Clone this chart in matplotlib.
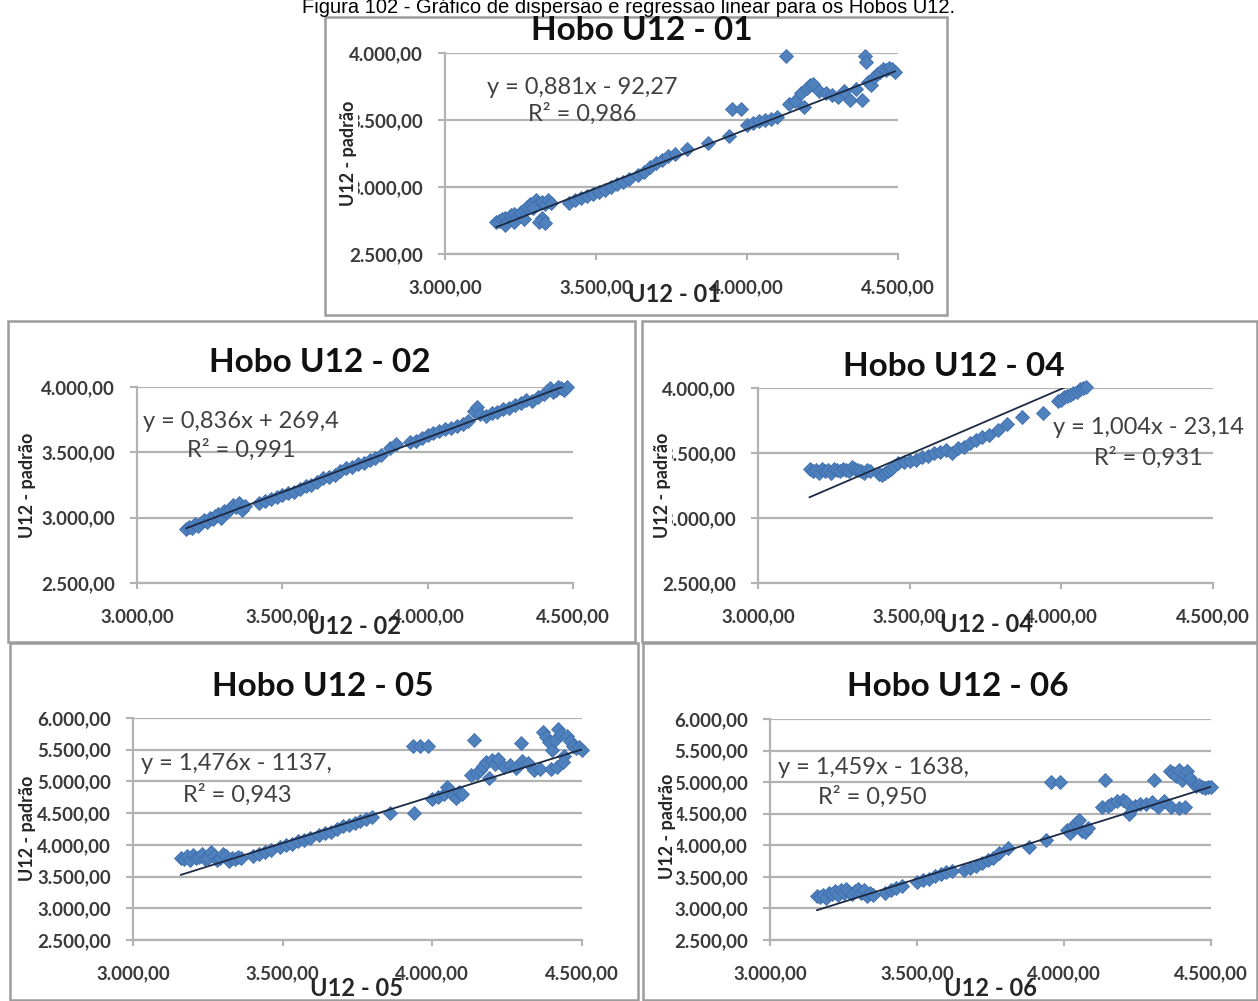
import matplotlib.pyplot as plt
from matplotlib.patches import Rectangle

plt.rcParams['font.family'] = ['Lato', 'DejaVu Sans']

W, H = 1258, 1001

# ---------------- data ----------------
x_ticks = [3000, 3500, 4000, 4500]
y_ticks_small = [2500, 3000, 3500, 4000]
y_ticks_big = [2500, 3000, 3500, 4000, 4500, 5000, 5500, 6000]

titles = ["Hobo U12 - 01", "Hobo U12 - 02", "Hobo U12 - 04", "Hobo U12 - 05", "Hobo U12 - 06"]
xlabels = ["U12 - 01", "U12 - 02", "U12 - 04", "U12 - 05", "U12 - 06"]
eq_labels = ["y = 0,881x - 92,27", "y = 0,836x + 269,4", "y = 1,004x - 23,14",
             "y = 1,476x - 1137,", "y = 1,459x - 1638,"]
r2_labels = ["R² = 0,986", "R² = 0,991", "R² = 0,931", "R² = 0,943", "R² = 0,950"]
slopes = [0.881, 0.836, 1.004, 1.476, 1.459]
intercepts = [-92.27, 269.4, -23.14, -1137, -1638]

x01 = [3170, 3180, 3190, 3200, 3210, 3220, 3230, 3240, 3250, 3260, 3270, 3280, 3290, 3300, 3310, 3320, 3330, 3340, 3350,
       3200, 3230, 3260, 3290, 3320, 3310, 3330,
       3410, 3430, 3450, 3470, 3490, 3510, 3530, 3550, 3570, 3590, 3610,
       3640, 3660, 3680, 3700, 3720, 3740, 3760,
       3800, 3870, 3940, 3950, 3980,
       4000, 4020, 4040, 4060, 4080, 4100, 4130,
       4140, 4160, 4180, 4190, 4200, 4210, 4220, 4240,
       4260, 4280, 4300, 4320, 4340, 4360, 4380, 4390, 4395,
       4400, 4410, 4420, 4430, 4440, 4450, 4460, 4470, 4480, 4490]
y01 = [2740, 2745, 2760, 2770, 2755, 2790, 2800, 2780, 2810, 2830, 2850, 2870, 2880, 2900, 2880, 2890, 2870, 2900, 2880,
       2720, 2740, 2760, 2840, 2770, 2740, 2730,
       2880, 2900, 2920, 2930, 2950, 2960, 2980, 3000, 3020, 3040, 3060,
       3090, 3110, 3150, 3180, 3200, 3230, 3250,
       3280, 3330, 3380, 3580, 3580,
       3460, 3480, 3490, 3500, 3510, 3520, 3975,
       3620, 3640, 3700, 3600, 3740, 3760, 3770, 3720,
       3700, 3690, 3670, 3720, 3650, 3730, 3650, 3975, 3930,
       3780, 3760, 3820, 3840, 3860, 3880, 3870, 3890, 3880, 3860]

x02 = [3170, 3180, 3190, 3200, 3210, 3220, 3230, 3240, 3250, 3260, 3270, 3280, 3290, 3300, 3310, 3320, 3330, 3340, 3350, 3360, 3370,
       3420, 3440, 3460, 3480, 3500, 3520, 3540, 3560, 3580, 3600, 3620,
       3640, 3660, 3680, 3700, 3720, 3740, 3760, 3780, 3800, 3820, 3840,
       3870, 3890, 3940, 3960, 3980, 4000, 4020, 4040, 4060, 4080, 4100, 4120, 4140,
       4160, 4170, 4180, 4200, 4220, 4240, 4260, 4280, 4300, 4320, 4340, 4360, 4380,
       4400, 4410, 4420, 4430, 4440, 4450, 4460, 4470, 4480]
y02 = [2910, 2930, 2920, 2950, 2940, 2960, 2980, 2970, 3000, 2990, 3010, 3030, 3000, 3050, 3040, 3070, 3100, 3080, 3110, 3060, 3090,
       3110, 3130, 3140, 3160, 3170, 3190, 3200, 3220, 3240, 3250, 3270,
       3300, 3310, 3330, 3360, 3380, 3390, 3410, 3420, 3440, 3460, 3480,
       3530, 3560, 3580, 3590, 3610, 3630, 3650, 3660, 3680, 3690, 3700, 3720, 3740,
       3820, 3850, 3790, 3780, 3800, 3810, 3830, 3840, 3860, 3880, 3900, 3890, 3920,
       3950, 3970, 3990, 3960, 3980, 4000, 3990, 3980, 4000]

x04 = [3170, 3180, 3190, 3200, 3210, 3220, 3230, 3240, 3250, 3260, 3270, 3280, 3290, 3300, 3310, 3320, 3330, 3340, 3350, 3360, 3370,
       3400, 3410, 3420, 3430, 3440, 3450, 3460,
       3480, 3500, 3520, 3540, 3560, 3580, 3600, 3620, 3640, 3660, 3680, 3700, 3720, 3740, 3760,
       3790, 3820, 3870, 3940,
       3990, 4000, 4010, 4020, 4030, 4040, 4050, 4060, 4070, 4080]
y04 = [3380, 3360, 3370, 3350, 3380, 3360, 3370, 3350, 3380, 3370, 3360, 3380, 3370, 3360, 3390, 3380, 3370, 3360, 3350, 3370, 3360,
       3340, 3330, 3350, 3360, 3380, 3400, 3420,
       3430, 3440, 3450, 3470, 3480, 3500, 3510, 3520, 3500, 3540, 3550, 3580, 3600, 3620, 3640,
       3680, 3720, 3780, 3810,
       3900, 3910, 3930, 3940, 3950, 3960, 3970, 3990, 4000, 4010]

x05 = [3160, 3170, 3180, 3190, 3200, 3210, 3220, 3230, 3240, 3250, 3260, 3270, 3280, 3290, 3300, 3310, 3320, 3330, 3340, 3350, 3360,
       3400, 3420, 3440, 3460,
       3490, 3510, 3530, 3550, 3570, 3590,
       3620, 3640, 3660, 3680, 3700, 3720, 3740, 3760, 3780, 3800,
       3860, 3940, 3935, 3960, 3985,
       4000, 4020, 4040, 4050, 4060, 4070, 4080, 4090, 4100,
       4140, 4130, 4150, 4160, 4170, 4180, 4190, 4200, 4210, 4220, 4240,
       4260, 4280, 4295, 4300, 4320, 4340, 4360,
       4370, 4380, 4390, 4400, 4410, 4420, 4430, 4440, 4450, 4460, 4470, 4480, 4490, 4500, 4395, 4415, 4435]
y05 = [3800, 3780, 3820, 3760, 3840, 3790, 3810, 3850, 3770, 3800, 3880, 3830, 3760, 3790, 3860, 3820, 3750, 3800, 3780, 3810, 3790,
       3820, 3850, 3880, 3920,
       3960, 3990, 4020, 4060, 4080, 4110,
       4160, 4180, 4210, 4250, 4290, 4320, 4350, 4380, 4410, 4440,
       4500, 4500, 5560, 5560, 5560,
       4720, 4760, 4800, 4920, 4860, 4780, 4740, 4840, 4800,
       5660, 5100, 5140, 5180, 5250, 5300, 5060, 5330, 5280, 5350, 5230,
       5260, 5210, 5600, 5320, 5290, 5180, 5200,
       5780, 5700, 5620, 5500, 5660, 5820, 5750, 5400, 5720, 5640, 5560, 5520, 5540, 5500, 5200, 5230, 5300]

x06 = [3160, 3170, 3180, 3190, 3200, 3210, 3220, 3230, 3240, 3250, 3260, 3270, 3280, 3290, 3300, 3310, 3320, 3330, 3340, 3350,
       3390, 3410, 3430, 3450,
       3500, 3520, 3540, 3560, 3580, 3600, 3620,
       3660, 3680, 3700, 3720, 3740, 3760,
       3780, 3810, 3880, 3940,
       3955, 3985,
       4010, 4020, 4030, 4040, 4050, 4060, 4070, 4080,
       4140,
       4130, 4150, 4160, 4180, 4200, 4210, 4220,
       4305,
       4240, 4260, 4280, 4300, 4320, 4340,
       4360, 4370, 4380, 4390, 4400, 4410, 4420, 4430, 4440, 4450, 4460, 4470, 4480, 4490, 4500, 4365, 4390, 4410]
y06 = [3200, 3180, 3220, 3160, 3250, 3230, 3270, 3210, 3290, 3240, 3300, 3260, 3230, 3280, 3310, 3250, 3290, 3200, 3240, 3220,
       3240, 3290, 3330, 3350,
       3420, 3450, 3470, 3510, 3550, 3570, 3590,
       3610, 3640, 3670, 3720, 3760, 3800,
       3870, 3950, 3980, 4080,
       5010, 5010,
       4250, 4190, 4300, 4360, 4400, 4230, 4210, 4280,
       5040,
       4600, 4620, 4650, 4700, 4720, 4680, 4500,
       5040,
       4620, 4660, 4650, 4680, 4600, 4700,
       5170, 5140, 5100, 5200, 5040, 5120, 5180, 5060, 4990, 4940, 4960, 4930, 4900, 4920, 4930, 4610, 4590, 4600]

xs = [x01, x02, x04, x05, x06]
ys = [y01, y02, y04, y05, y06]
yticks = [y_ticks_small, y_ticks_small, y_ticks_small, y_ticks_big, y_ticks_big]

# ---------------- layout (pixels of the 1258x1001 picture) ----------------
# axes box: left, top, right, bottom
ax_box = [(445, 53, 898, 254), (137, 387, 573, 583), (758, 388, 1213, 583),
          (133, 718, 582, 940), (770, 719, 1211, 940)]
frame_box = [(325, 17, 947, 315), (8, 321, 635, 642), (642, 321, 1257, 642),
             (10, 643, 638, 1000), (643, 643, 1257, 1000)]
title_pos = [(642, 31), (320, 363), (954, 367), (323, 687), (958, 687)]
eq_pos = [(582, 88), (241, 422), (1148, 428), (236, 764), (874, 768)]
r2_pos = [(582, 114), (241, 450), (1148, 458), (237, 795), (872, 797)]
xlab_pos = [(674, 295), (355, 627), (986, 625), (357, 988), (990, 988)]
ylab_pos = [(349, 153), (27, 485), (663, 485), (28, 828), (668, 826)]


def fx(x):
    return x / W


def fy(y):
    return 1 - y / H


def br(v):
    s = f"{v:,.2f}"
    return s.replace(',', 'X').replace('.', ',').replace('X', '.')


fig = plt.figure(figsize=(W / 100, H / 100), dpi=100)
fig.patch.set_facecolor('white')

# legenda da figura (no original aparece cortada no topo)
fig.text(0.5, fy(13), "Figura 102 - Gráfico de dispersão e regressão linear para os Hobos U12.",
         ha='center', va='baseline', fontsize=14.5, family=['Liberation Sans', 'DejaVu Sans'], color='black')

grid_c = '#b2b2b2'
txt_c = '#3a3a3a'

for i in range(5):
    # moldura do painel
    l, t, r, b = frame_box[i]
    fig.add_artist(Rectangle((fx(l), fy(b)), fx(r) - fx(l), fy(t) - fy(b), transform=fig.transFigure,
                             fill=False, edgecolor='#9c9c9c', lw=1.8, zorder=1))

    l, t, r, b = ax_box[i]
    ax = fig.add_axes([fx(l), fy(b), fx(r) - fx(l), fy(t) - fy(b)])
    ax.set_xlim(3000, 4500)
    ax.set_ylim(yticks[i][0], yticks[i][-1])
    ax.set_xticks(x_ticks, [br(v) for v in x_ticks], fontsize=13.5, fontweight='bold', color=txt_c)
    ax.set_yticks(yticks[i], [br(v) for v in yticks[i]], fontsize=13.5, fontweight='bold', color=txt_c)
    ax.tick_params(axis='y', length=5, width=1.5, color=grid_c, pad=11)
    ax.tick_params(axis='x', length=4, width=1.5, color=grid_c, pad=14)
    ax.grid(axis='y', color=grid_c, lw=1.6)
    ax.set_axisbelow(True)
    for s in ['top', 'right']:
        ax.spines[s].set_visible(False)
    for s in ['left', 'bottom']:
        ax.spines[s].set_color(grid_c)
        ax.spines[s].set_linewidth(1.6)

    ax.plot(xs[i], ys[i], ls='none', marker='D', ms=7, mfc='#4F81BD', mec='#3F6FAE', mew=0.6,
            clip_on=False, zorder=3)
    # linha de tendência
    x0, x1 = min(xs[i]), max(xs[i])
    ax.plot([x0, x1], [slopes[i] * x0 + intercepts[i], slopes[i] * x1 + intercepts[i]],
            color='#1c2a44', lw=1.3, zorder=4)

    fig.text(fx(title_pos[i][0]), fy(title_pos[i][1]), titles[i], ha='center', va='center',
             fontsize=24, fontweight='bold', color='#111111', zorder=5)
    fig.text(fx(eq_pos[i][0]), fy(eq_pos[i][1]), eq_labels[i], ha='center', va='center',
             fontsize=17, color='#404040', zorder=5)
    fig.text(fx(r2_pos[i][0]), fy(r2_pos[i][1]), r2_labels[i], ha='center', va='center',
             fontsize=17, color='#404040', zorder=5)
    fig.text(fx(xlab_pos[i][0]), fy(xlab_pos[i][1]), xlabels[i], ha='center', va='center',
             fontsize=17, fontweight='bold', color='#262626', zorder=5)
    fig.text(fx(ylab_pos[i][0]), fy(ylab_pos[i][1]), "U12 - padrão", ha='center', va='center',
             rotation=90, fontsize=13, fontweight='bold', color='#262626', zorder=5,
             bbox=dict(facecolor='white', edgecolor='none', pad=0.5))

fig.savefig('out.png', dpi=100)
